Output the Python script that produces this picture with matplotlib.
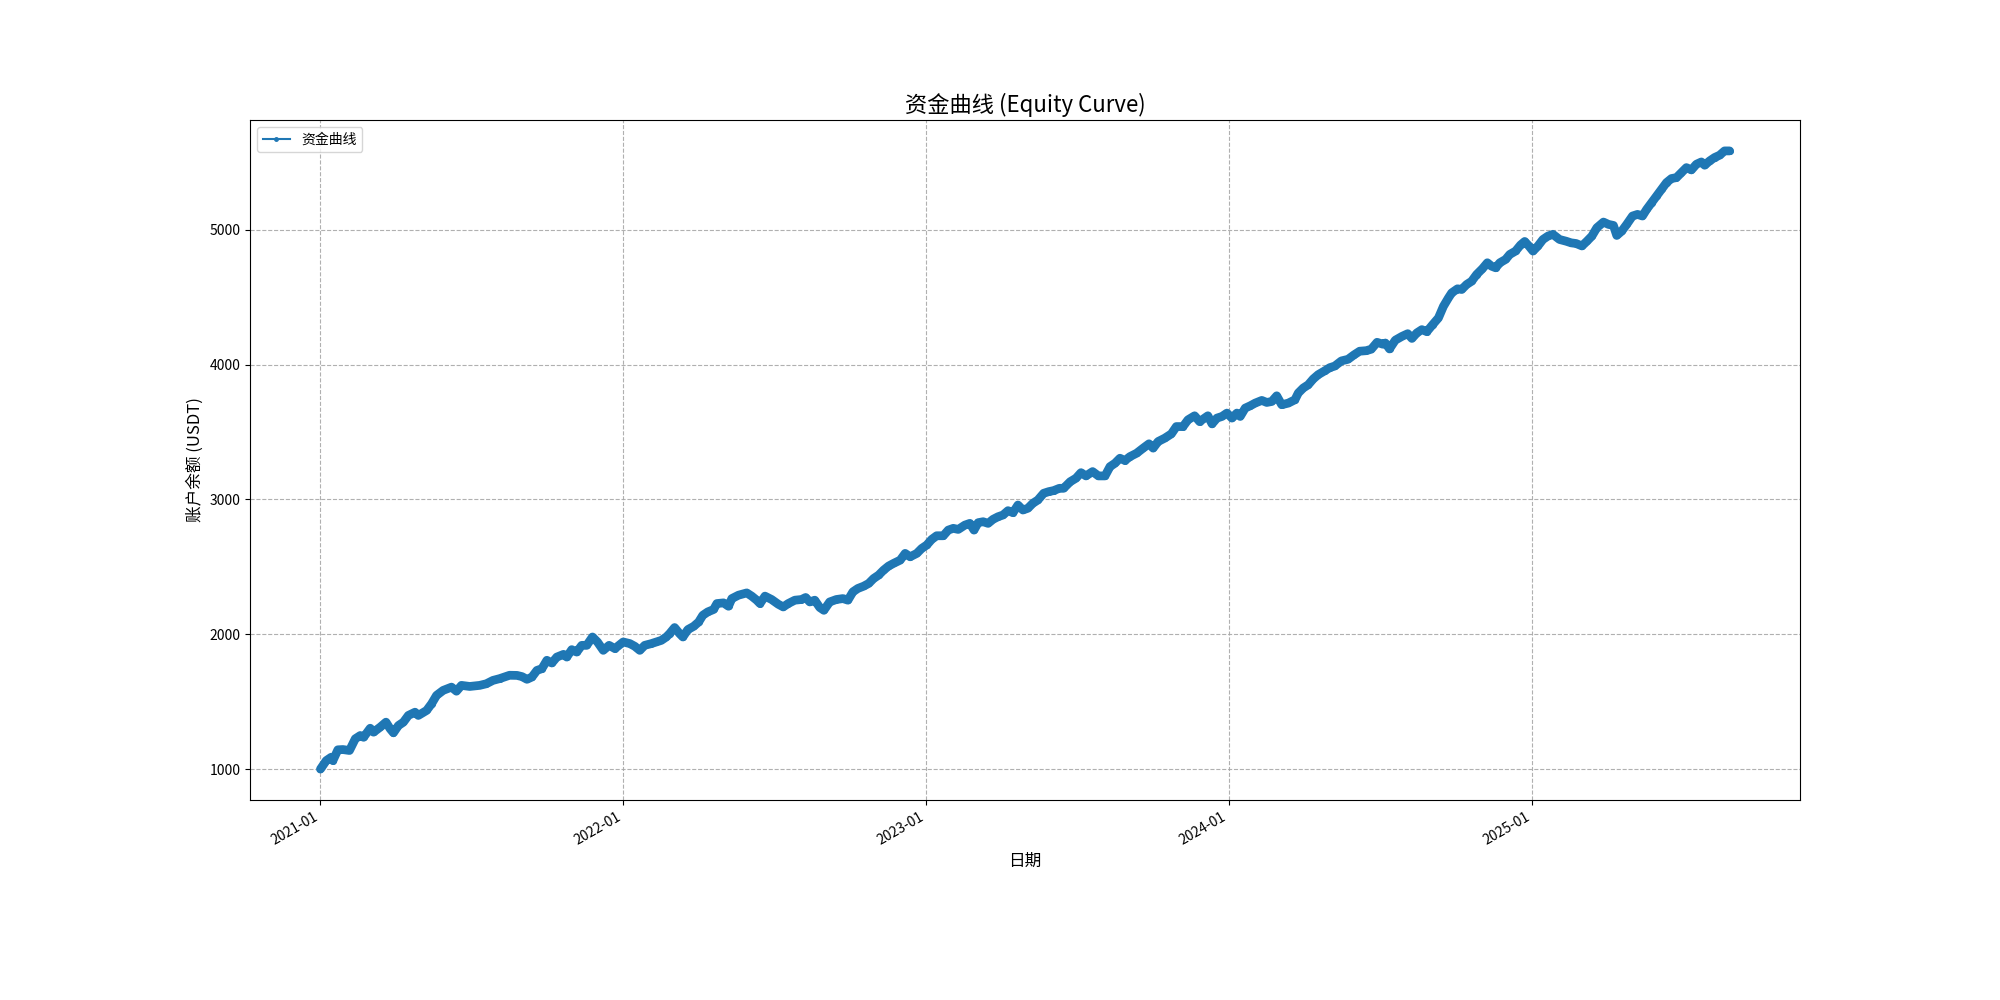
import numpy as np
import pandas as pd
import matplotlib
matplotlib.use("Agg")
import matplotlib.pyplot as plt
import matplotlib.dates as mdates
from matplotlib.lines import Line2D

plt.rcParams['font.family'] = ['Noto Sans CJK SC', 'DejaVu Sans']
plt.rcParams['axes.unicode_minus'] = False

start_date = "2021-01-01"
day_offsets = [
    0, 7, 13, 15, 21, 27, 35, 42, 48, 52, 60, 64, 72, 79, 84, 88, 94, 100, 106, 114,
    118, 128, 134, 140, 148, 158, 164, 170, 180, 192, 200, 208, 216, 228, 237, 243, 249,
    255, 261, 267, 273, 279, 285, 293, 297, 303, 309, 315, 321, 328, 334, 341, 348, 355,
    365, 373, 379, 385, 391, 399, 405, 411, 417, 421, 427, 433, 437, 443, 450, 456, 461,
    467, 474, 478, 486, 492,
    496, 504, 514, 520, 526, 530, 536, 544, 552, 558, 564, 572, 580, 585, 590, 596, 602,
    607, 614, 622, 630, 636, 642, 648, 655, 661, 667, 673, 679, 685, 691, 699, 705, 711,
    719, 725, 731, 737, 743, 751, 757, 763, 769,
    777, 783, 788, 793, 799, 805, 811, 817, 823, 829, 835, 841, 847, 853, 859, 865, 872,
    878, 884, 891,
    896, 904, 911, 917, 923, 931, 938, 946, 952, 958, 964, 970, 976, 984, 992, 999, 1004,
    1010, 1018, 1026, 1032, 1040, 1046, 1054, 1060,
    1070, 1075, 1081, 1087, 1093, 1099, 1105, 1109, 1115, 1121, 1127, 1135, 1141, 1147,
    1153, 1159, 1167, 1175, 1179, 1185, 1191, 1197, 1203, 1211, 1217, 1223, 1231, 1239,
    1246, 1253, 1261, 1267, 1274, 1281, 1284, 1289, 1296, 1304, 1311, 1316, 1322, 1328,
    1334, 1341, 1348, 1354, 1360,
    1364, 1371, 1376, 1382, 1388, 1394, 1401, 1407, 1412, 1417, 1422, 1429, 1434, 1441,
    1447, 1452, 1457, 1462, 1468, 1474, 1480, 1486, 1494, 1502, 1508, 1514, 1521, 1527,
    1533,
    1539, 1547, 1553, 1559, 1563, 1569, 1575, 1582, 1588, 1594, 1599, 1605, 1611, 1617,
    1623, 1629, 1635, 1641, 1647, 1653, 1659, 1665, 1669, 1675, 1681, 1687, 1693, 1699,
]
equity = [
    1000, 1063, 1088, 1063, 1143, 1145, 1138, 1225, 1249, 1236, 1303, 1274, 1311, 1348,
    1299, 1269, 1323, 1348, 1398, 1422, 1398, 1435, 1485, 1547, 1584, 1608, 1578, 1621,
    1613, 1621, 1633, 1658, 1671, 1696, 1695, 1686, 1666,
    1683, 1732, 1745, 1807, 1787, 1831, 1851, 1831, 1886, 1868, 1918, 1918, 1980, 1943,
    1881, 1918, 1894, 1943, 1931, 1911, 1881, 1918, 1931, 1943, 1955, 1980, 2005, 2050,
    2005, 1980, 2035, 2059, 2091, 2141, 2166, 2184, 2228, 2233, 2208,
    2265, 2290, 2307, 2283, 2253, 2228, 2283, 2258, 2223, 2203, 2228, 2253, 2258, 2273,
    2240, 2253, 2199, 2178, 2240, 2258, 2265, 2253, 2315, 2340, 2357, 2377, 2414, 2439,
    2476, 2506, 2526, 2550, 2600, 2575, 2600, 2637, 2662, 2704, 2731, 2731, 2773, 2786,
    2778,
    2810, 2823, 2773, 2828, 2835, 2823, 2853, 2872, 2885, 2917, 2902, 2959, 2922, 2935,
    2972, 2996, 3046, 3058, 3066, 3083,
    3083, 3132, 3158, 3199, 3175, 3207, 3175, 3175, 3244, 3269, 3306, 3289, 3318, 3343,
    3381, 3413, 3381, 3430, 3455, 3487, 3541, 3541, 3591, 3621, 3578,
    3621, 3561, 3604, 3616, 3641, 3604, 3641, 3616, 3678, 3695, 3715, 3735, 3720, 3727,
    3769, 3703, 3715, 3740, 3790, 3827, 3851, 3894, 3926, 3955, 3978, 3990, 4028, 4040,
    4072, 4100, 4104, 4115, 4166, 4152, 4161, 4117, 4182, 4210, 4230, 4195, 4236, 4260,
    4245, 4297, 4347, 4433, 4495,
    4533, 4563, 4558, 4595, 4619, 4669, 4712, 4756, 4731, 4719, 4756, 4781, 4818, 4843,
    4888, 4914, 4881, 4843, 4881, 4929, 4954, 4967, 4929, 4916, 4904, 4899, 4881, 4916,
    4954,
    5016, 5058, 5041, 5033, 4959, 4991, 5041, 5103, 5115, 5103, 5152, 5202, 5251, 5301,
    5351, 5381, 5388, 5425, 5462, 5445, 5487, 5504, 5480, 5512, 5537, 5554, 5586, 5586,
]

dates = pd.Timestamp(start_date) + pd.to_timedelta(day_offsets, unit="D")

fig, ax = plt.subplots(figsize=(20, 10), dpi=100)
color = '#1f77b4'
ax.plot(dates, equity, color=color, linewidth=6.3, marker='.', markersize=8,
        solid_joinstyle='round', solid_capstyle='round')

handle = Line2D([], [], color=color, linewidth=1.5, marker='.', markersize=5)
ax.legend([handle], ['资金曲线'], loc='upper left', fontsize=10)

ax.set_title('资金曲线 (Equity Curve)', fontsize=16)
ax.set_xlabel('日期', fontsize=12)
ax.set_ylabel('账户余额 (USDT)', fontsize=12)
ax.grid(True, linestyle='--', color='#a8a8a8', alpha=0.9)

ax.xaxis.set_major_locator(mdates.YearLocator())
ax.xaxis.set_major_formatter(mdates.DateFormatter('%Y-%m'))
ax.yaxis.set_major_locator(matplotlib.ticker.MultipleLocator(1000))
ax.tick_params(labelsize=10)
fig.autofmt_xdate()

fig.savefig('out.png', dpi=100)
